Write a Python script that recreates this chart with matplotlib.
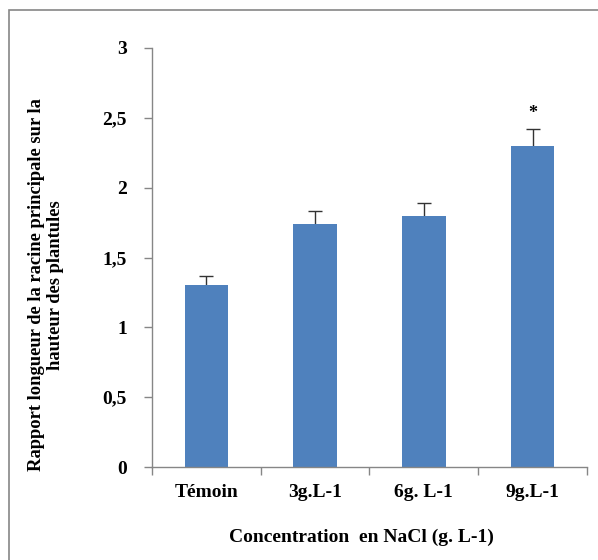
import matplotlib.pyplot as plt
from matplotlib.patches import Rectangle

# données
traitements = ['Témoin', '3g.L-1', '6g. L-1', '9g.L-1']
rapport = [1.30, 1.74, 1.80, 2.30]
erreur = [0.07, 0.09, 0.09, 0.12]
signif = ['', '', '', '*']
yticks = [0, 0.5, 1, 1.5, 2, 2.5, 3]
ytick_labels = ['0', '0,5', '1', '1,5', '2', '2,5', '3']

plt.rcParams['font.family'] = ['Liberation Serif', 'DejaVu Serif']
plt.rcParams['font.weight'] = 'bold'

fig = plt.figure(figsize=(5.98, 5.6), dpi=100)
W, H = 598, 560
ax = fig.add_axes([152 / W, 1 - 467 / H, (587 - 152) / W, (467 - 48) / H])

# cadre autour du graphique
fig.patches.append(Rectangle((9 / W, -0.1), 1.2, (1 - 10 / H) + 0.1, transform=fig.transFigure,
                             fill=False, edgecolor='#868686', linewidth=1.2))

x = list(range(len(traitements)))
# barres d'erreur symétriques, la moitié basse est cachée par la barre
ax.errorbar(x, rapport, yerr=erreur, fmt='none', ecolor='#333333',
            elinewidth=1, capsize=5, capthick=1, zorder=1)
ax.bar(x, rapport, width=0.4, color='#4F81BD', zorder=2)
for xi, v, e, s in zip(x, rapport, erreur, signif):
    if s:
        ax.text(xi, v + e + 0.05, s, ha='center', va='bottom', fontsize=13, fontweight='bold')

ax.set_xlim(-0.5, len(traitements) - 0.5)
ax.set_ylim(0, 3)
ax.set_yticks(yticks)
ax.set_yticklabels(ytick_labels, fontsize=14, fontweight='bold')
ax.set_xticks(x)
ax.set_xticklabels(traitements, fontsize=14, fontweight='bold')
ax.tick_params(axis='x', length=0, pad=12)
ax.set_xticks([i - 0.5 for i in range(len(traitements) + 1)], minor=True)
ax.tick_params(axis='x', which='minor', length=6, color='#868686', width=1)
ax.tick_params(axis='y', length=6, color='#868686', width=1, pad=12)

for side in ['top', 'right']:
    ax.spines[side].set_visible(False)
for side in ['left', 'bottom']:
    ax.spines[side].set_color('#868686')
    ax.spines[side].set_linewidth(1)

fig.text(361 / W, 1 - 537 / H, 'Concentration  en NaCl (g. L-1)', ha='center', va='center',
         fontsize=14, fontweight='bold')
fig.text(46 / W, 1 - 285 / H, 'Rapport longueur de la racine principale sur la\nhauteur des plantules',
         ha='center', va='center', rotation=90, fontsize=13.3, fontweight='bold', linespacing=1.1)

fig.savefig('out.png', dpi=100)
